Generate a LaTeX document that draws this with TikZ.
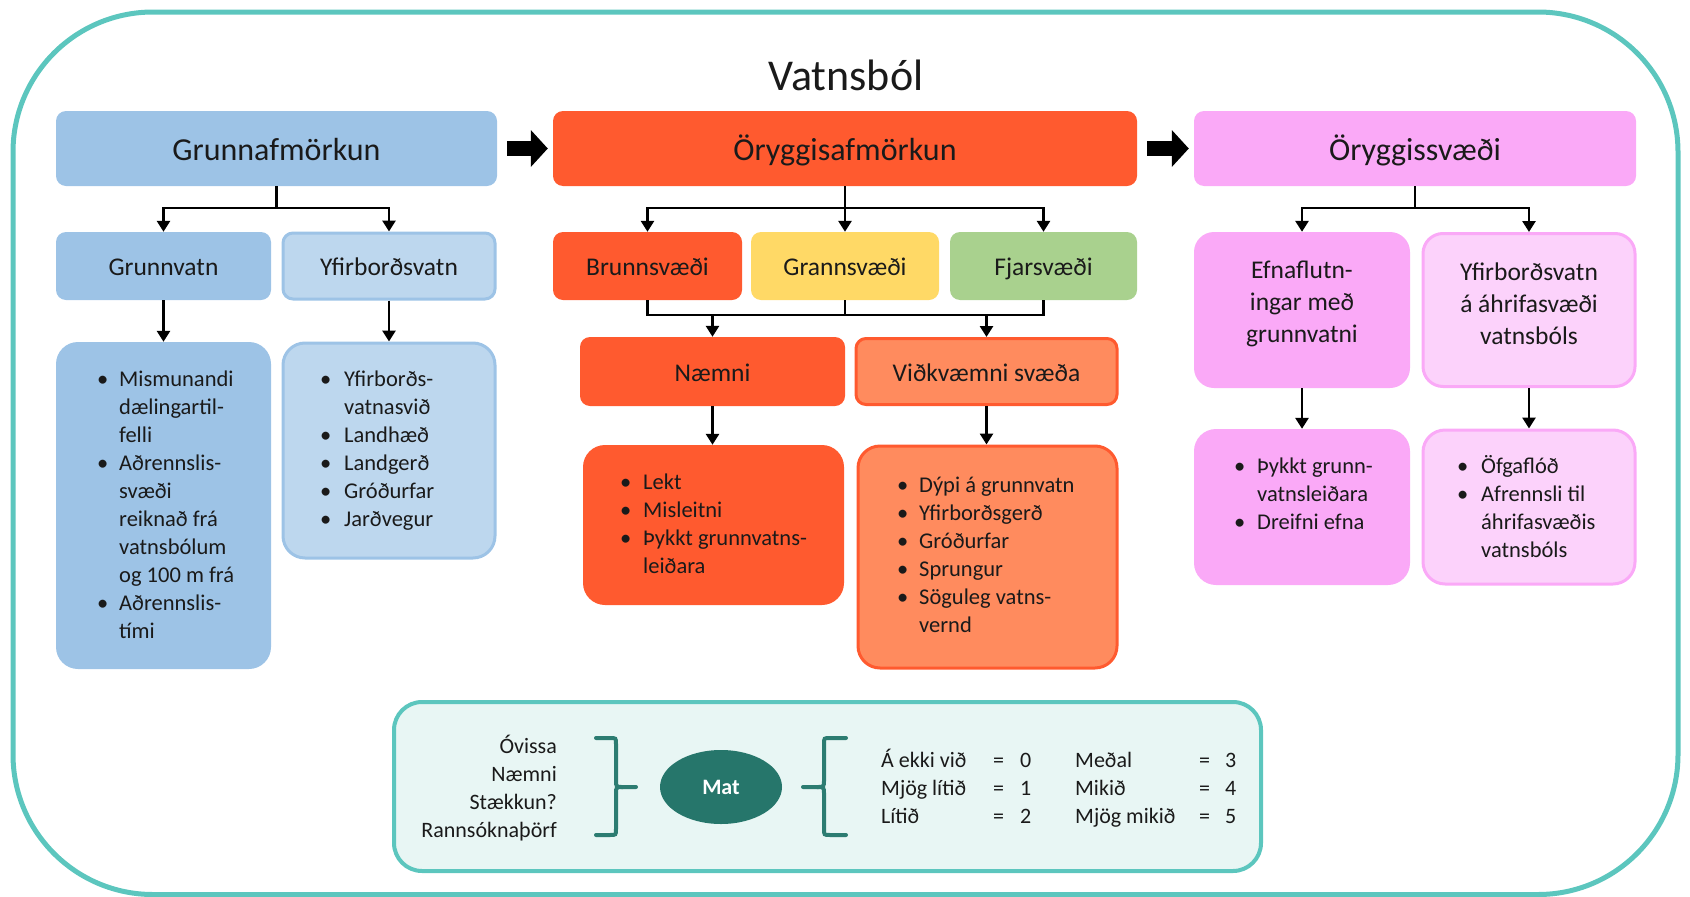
\documentclass[tikz,border=0pt]{standalone}
\usepackage{fontspec}
\setmainfont{Carlito}
\usetikzlibrary{arrows.meta,shapes.geometric,calc}
\definecolor{blueA}{HTML}{9DC3E6}
\definecolor{blueB}{HTML}{BDD7EE}
\definecolor{orA}{HTML}{FF5A2F}
\definecolor{orB}{HTML}{FF8B5E}
\definecolor{yelA}{HTML}{FFD966}
\definecolor{grnA}{HTML}{A9D18E}
\definecolor{pkA}{HTML}{FAA9F7}
\definecolor{pkB}{HTML}{FCD2FB}
\definecolor{tealB}{HTML}{5CC6BE}
\definecolor{tealL}{HTML}{E8F6F4}
\definecolor{matC}{HTML}{26766B}
\definecolor{braceC}{HTML}{2C7C71}
\definecolor{txt}{HTML}{1A1A1A}
\tikzset{
  box/.style={rounded corners=10pt, inner sep=0pt, align=center, text=txt},
  hdr/.style={box, minimum height=75pt, font=\fontsize{32}{38}\selectfont, text height=24pt, text depth=0pt},
  sub/.style={box, minimum height=68pt, font=\fontsize{25.5}{32}\selectfont, text height=19pt, text depth=0pt},
  subtxt/.style={inner sep=0pt, align=center, text=txt, font=\fontsize{25.5}{32}\selectfont},
  det/.style={rounded corners=22pt, inner sep=0pt},
  dtext/.style={inner sep=0pt, anchor=base west, text=txt, font=\fontsize{22.5}{28}\selectfont},
  arr/.style={line width=2.8pt, -{Triangle[width=13pt,length=11pt]}},
  ln/.style={line width=2.8pt},
  blockarr/.style={line width=15pt, -{Triangle[width=36pt,length=17pt]}, shorten <=10pt, shorten >=5pt},
  bracestyle/.style={line width=4pt, draw=braceC, line cap=round},
  btext/.style={inner sep=0pt, text=txt, font=\fontsize{22}{28}\selectfont},
}
\begin{document}
\begin{tikzpicture}[x=1pt,y=-1pt]
\useasboundingbox (0,0) rectangle (1690,897);
\draw[tealB, line width=5pt, rounded corners=140pt] (13,12) rectangle (1678,894.5);

\node[inner sep=0pt, text=txt, font=\fontsize{44}{50}\selectfont] (title) at (846,75) {Vatnsból};

% headers
\node[hdr, fill=blueA, minimum width=441pt] (G) at (276.5,148.5) {Grunnafmörkun};
\node[hdr, fill=orA, minimum width=584pt] (O) at (845,148.5) {Öryggisafmörkun};
\node[hdr, fill=pkA, minimum width=442pt] (S) at (1415,148.5) {Öryggissvæði};

\draw[blockarr] (G.east) -- (O.west);
\draw[blockarr] (O.east) -- (S.west);

% second row
\node[sub, fill=blueA, minimum width=215pt] (Gw) at (163.5,266) {Grunnvatn};
\node[sub, fill=blueB, draw=blueA, line width=3pt, minimum width=212pt, minimum height=66pt] (Yw) at (389,266) {Yfirborðsvatn};
\node[sub, fill=orA, minimum width=189pt] (Br) at (647.5,266) {Brunnsvæði};
\node[sub, fill=yelA, minimum width=188pt] (Gs) at (845,266) {Grannsvæði};
\node[sub, fill=grnA, minimum width=187pt] (Fj) at (1043.5,266) {Fjarsvæði};
\node[box, fill=pkA, rounded corners=20pt, minimum width=216pt, minimum height=156pt] (Ef) at (1302,310) {};
\node[box, fill=pkB, draw=pkA, line width=3pt, rounded corners=20pt, minimum width=212pt, minimum height=153pt] (Ya) at (1529,310) {};
\node[subtxt] (Eft) at (1302,304) {Efnaflutn-\\ingar með\\grunnvatni};
\node[subtxt] (Yat) at (1529,304) {Yfirborðsvatn\\á áhrifasvæði\\vatnsbóls};

% third row
\node[sub, fill=orA, minimum width=265pt, minimum height=69pt] (Nm) at (712.5,371.5) {Næmni};
\node[sub, fill=orB, draw=orA, line width=3pt, minimum width=261pt, minimum height=66pt] (Vk) at (986.5,371.5) {Viðkvæmni svæða};

% tree connectors
\coordinate (jG) at (276.5,208);
\draw[arr] (G.south) -- (jG) -| (Gw.north);
\draw[arr] (jG) -| (Yw.north);
\coordinate (jO) at (845,208);
\draw[arr] (O.south) -- (jO) -| (Br.north);
\draw[arr] (jO) -| (Fj.north);
\draw[arr] (jO) -- (Gs.north);
\coordinate (jS) at (1415,208);
\draw[arr] (S.south) -- (jS) -| (Ef.north);
\draw[arr] (jS) -| (Ya.north);

\coordinate (m) at (845,315);
\draw[ln] (Br.south) |- (m) -| (Fj.south);
\draw[ln] (Gs.south) -- (m);
\draw[arr] (Nm.north |- m) -- (Nm.north);
\draw[arr] (Vk.north |- m) -- (Vk.north);

% detail boxes
\node[det, fill=blueA, minimum width=215pt, minimum height=327pt] (GD) at (163.5,505.5) {};
\node[det, fill=blueB, draw=blueA, line width=3pt, minimum width=212pt, minimum height=215pt] (YD) at (389,450.5) {};
\node[det, fill=orA, minimum width=261pt, minimum height=160pt] (ND) at (713.5,525) {};
\node[det, fill=orB, draw=orA, line width=3pt, minimum width=259pt, minimum height=222pt] (VD) at (987.5,557) {};
\node[det, fill=pkA, minimum width=216pt, minimum height=156pt] (ED) at (1302,507) {};
\node[det, fill=pkB, draw=pkA, line width=3pt, minimum width=212pt, minimum height=154pt] (AD) at (1529,507) {};

\draw[arr] (Gw.south) -- (GD.north);
\draw[arr] (Yw.south) -- (YD.north);
\draw[arr] (Nm.south) -- (Nm.south |- ND.north);
\draw[arr] (Vk.south) -- (Vk.south |- VD.north);
\draw[arr] (Ef.south) -- (ED.north);
\draw[arr] (Ya.south) -- (AD.north);

% detail texts
\node[dtext] (GDt) at (97,386) {\begin{tabular}[t]{@{}p{22pt}@{}l@{}}
\textbullet & Mismunandi\\ & dælingartil-\\ & felli\\
\textbullet & Aðrennslis-\\ & svæði\\ & reiknað frá\\ & vatnsbólum\\ & og 100 m frá\\
\textbullet & Aðrennslis-\\ & tími\end{tabular}};
\node[dtext] (YDt) at (320,386) {\begin{tabular}[t]{@{}p{24pt}@{}l@{}}
\textbullet & Yfirborðs-\\ & vatnasvið\\
\textbullet & Landhæð\\ \textbullet & Landgerð\\ \textbullet & Gróðurfar\\ \textbullet & Jarðvegur\end{tabular}};
\node[dtext] (NDt) at (620,489) {\begin{tabular}[t]{@{}p{23pt}@{}l@{}}
\textbullet & Lekt\\ \textbullet & Misleitni\\ \textbullet & Þykkt grunnvatns-\\ & leiðara\end{tabular}};
\node[dtext] (VDt) at (897,492) {\begin{tabular}[t]{@{}p{22pt}@{}l@{}}
\textbullet & Dýpi á grunnvatn\\ \textbullet & Yfirborðsgerð\\ \textbullet & Gróðurfar\\ \textbullet & Sprungur\\ \textbullet & Söguleg vatns-\\ & vernd\end{tabular}};
\node[dtext] (EDt) at (1234,473) {\begin{tabular}[t]{@{}p{23pt}@{}l@{}}
\textbullet & Þykkt grunn-\\ & vatnsleiðara\\ \textbullet & Dreifni efna\end{tabular}};
\node[dtext] (ADt) at (1457,473) {\begin{tabular}[t]{@{}p{24pt}@{}l@{}}
\textbullet & Öfgaflóð\\ \textbullet & Afrennsli til\\ & áhrifasvæðis\\ & vatnsbóls\end{tabular}};

% bottom panel
\node[draw=tealB, fill=tealL, line width=4pt, rounded corners=28pt, minimum width=867pt, minimum height=169pt, inner sep=0pt] (bot) at (827.5,786.5) {};
\node[btext, anchor=base east] (crit) at (557,753) {\begin{tabular}[t]{@{}r@{}}Óvissa\\Næmni\\Stækkun?\\Rannsóknaþörf\end{tabular}};
\node[ellipse, fill=matC, minimum width=122pt, minimum height=74pt, inner sep=0pt, text=white, font=\bfseries\fontsize{22}{26}\selectfont] (mat) at (721,787) {Mat};
\draw[bracestyle] (596,738) -- (610,738) .. controls (616,738) .. (616,744) -- (616,780) .. controls (616,787) .. (623,787) -- (636,787);
\draw[bracestyle] (596,835) -- (610,835) .. controls (616,835) .. (616,829) -- (616,794) .. controls (616,787) .. (623,787);
\draw[bracestyle] (846,738) -- (830,738) .. controls (824,738) .. (824,744) -- (824,780) .. controls (824,787) .. (817,787) -- (803,787);
\draw[bracestyle] (846,835) -- (830,835) .. controls (824,835) .. (824,829) -- (824,794) .. controls (824,787) .. (817,787);
\node[btext, anchor=base west] (scale) at (881,767) {\begin{tabular}[t]{@{}p{112pt}@{}p{27pt}@{}p{55pt}@{}p{124pt}@{}p{26pt}@{}l@{}}
Á ekki við & = & 0 & Meðal & = & 3\\
Mjög lítið & = & 1 & Mikið & = & 4\\
Lítið & = & 2 & Mjög mikið & = & 5\end{tabular}};
\end{tikzpicture}
\end{document}
